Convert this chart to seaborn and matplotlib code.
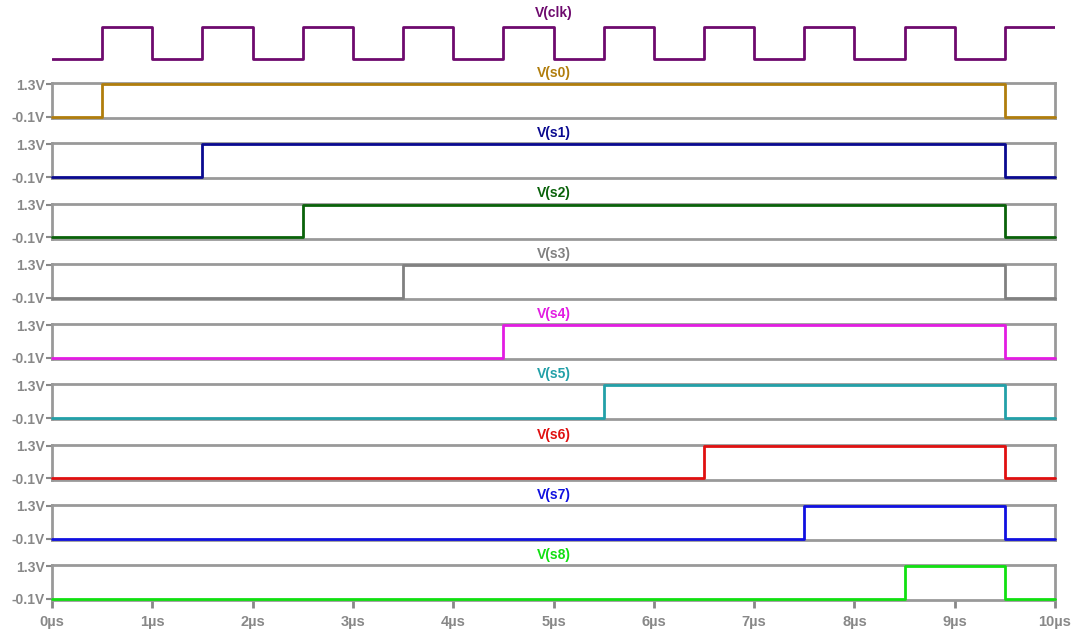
import matplotlib
matplotlib.use('Agg')
import matplotlib.pyplot as plt
import seaborn as sns

# ---------------------------------------------------------
# Data
# ---------------------------------------------------------
names = ['V(s0)', 'V(s1)', 'V(s2)', 'V(s3)', 'V(s4)', 'V(s5)', 'V(s6)', 'V(s7)', 'V(s8)']
colors = ['#b07d0c', '#0a0a90', '#0a620a', '#808080', '#e21ce2', '#22a0a8', '#e01010', '#1010e0', '#10e010']
rise_us = [0.5, 1.5, 2.5, 3.5, 4.5, 5.5, 6.5, 7.5, 8.5]
fall_us = 9.5
v_low, v_high = -0.1, 1.3

clk_t = [0, 0.5, 1.0, 1.5, 2.0, 2.5, 3.0, 3.5, 4.0, 4.5, 5.0, 5.5, 6.0, 6.5, 7.0, 7.5, 8.0, 8.5, 9.0, 9.5, 10]
clk_v = [0, 1, 0, 1, 0, 1, 0, 1, 0, 1, 0, 1, 0, 1, 0, 1, 0, 1, 0, 1, 1]

xticks = [0, 1, 2, 3, 4, 5, 6, 7, 8, 9, 10]
xlabels = ['0µs', '1µs', '2µs', '3µs', '4µs', '5µs', '6µs', '7µs', '8µs', '9µs', '10µs']

# ---------------------------------------------------------
# Figure
# ---------------------------------------------------------
sns.set_style('white')
plt.rcParams['font.family'] = ['Liberation Sans', 'DejaVu Sans']

W, H = 1073, 633
fig = plt.figure(figsize=(W / 100, H / 100), dpi=100)
left, right = 52, 1055
frame_c = '#999999'
tick_c = '#888888'


def ax_at(top, height):
    return fig.add_axes([left / W, 1 - (top + height) / H, (right - left) / W, height / H])


# clock panel (no frame)
ax = ax_at(22, 42)
sns.lineplot(x=clk_t, y=clk_v, ax=ax, drawstyle='steps-post', estimator=None, sort=False,
             color='#6e0a6e', linewidth=2)
ax.set_xlim(0, 10)
ax.set_ylim(-0.156, 1.156)
ax.axis('off')
fig.text((left + right) / 2 / W, 1 - 13 / H, 'V(clk)', color='#6e0a6e', ha='center', va='center',
         fontsize=10, fontweight='bold')

# signal panels
for k, name in enumerate(names):
    top = 83 + 60.25 * k
    ax = ax_at(top, 35)
    sns.lineplot(x=[0, rise_us[k], fall_us, 10], y=[v_low, v_high, v_low, v_low], ax=ax,
                 drawstyle='steps-post', estimator=None, sort=False, color=colors[k], linewidth=2,
                 zorder=3, clip_on=False)
    ax.set_xlim(0, 10)
    ax.set_ylim(-0.15, 1.35)
    for s in ax.spines.values():
        s.set_visible(True)
        s.set_color(frame_c)
        s.set_linewidth(2)
    ax.set_yticks([v_low, v_high])
    ax.set_yticklabels(['-0.1V', '1.3V'])
    ax.tick_params(axis='y', length=4, width=1.5, color=tick_c, labelcolor=tick_c, labelsize=10, pad=1,
                   left=True)
    for lab in ax.get_yticklabels():
        lab.set_fontweight('bold')
    ax.set_xticks(xticks)
    if k == len(names) - 1:
        ax.set_xticklabels(xlabels)
        ax.tick_params(axis='x', length=6, width=2, color=tick_c, labelcolor=tick_c, labelsize=10.5,
                       pad=5, bottom=True)
        for lab in ax.get_xticklabels():
            lab.set_fontweight('bold')
    else:
        ax.tick_params(axis='x', bottom=False, labelbottom=False)
    ax.set_xlabel('')
    ax.set_ylabel('')
    fig.text((left + right) / 2 / W, 1 - (top - 10) / H, name, color=colors[k], ha='center', va='center',
             fontsize=10, fontweight='bold')

fig.savefig('out.png', dpi=100)
